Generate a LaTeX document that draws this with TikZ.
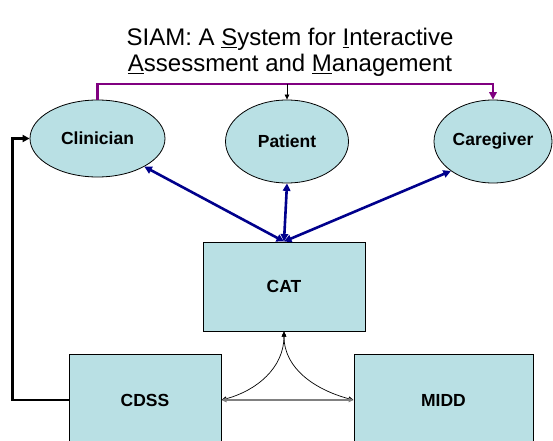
\documentclass[tikz,border=0pt]{standalone}
\usepackage{fontspec}
\setmainfont{Liberation Sans}
\usetikzlibrary{shapes.geometric,arrows.meta}
\definecolor{siamfill}{RGB}{185,224,228}
\definecolor{siamblue}{RGB}{0,0,140}
\definecolor{siampurple}{RGB}{128,0,128}

\begin{document}
\begin{tikzpicture}[x=1pt,y=1pt,
		actor/.style={ellipse, draw, line width=0.8pt, fill=siamfill, inner sep=0pt,
			font=\fontsize{17.5}{20}\selectfont\bfseries},
		module/.style={rectangle, draw, line width=1pt, fill=siamfill, inner sep=0pt,
			font=\fontsize{17.5}{20}\selectfont\bfseries},
		link/.style={siamblue, line width=2.6pt,
			{Triangle[length=7.5pt,width=7.5pt]}-{Triangle[length=7.5pt,width=7.5pt]}},
		flow/.style={line width=0.7pt, {Triangle[length=5pt,width=4.5pt]}-{Triangle[length=5pt,width=4.5pt]}}
	]
		\useasboundingbox (0,0) rectangle (553,440);
		% title
		\node[anchor=base] (title1) at (290,394) {\fontsize{24}{28}\selectfont SIAM: A \underline{S}ystem for \underline{I}nteractive};
		\node[anchor=base] (title2) at (290,368) {\fontsize{24}{28}\selectfont \underline{A}ssessment and \underline{M}anagement};
		% people
		\node[actor, minimum width=135pt, minimum height=77pt] (clin) at (97.5,301.5) {Clinician};
		\node[actor, minimum width=123pt, minimum height=83pt] (pat) at (287,298.5) {Patient};
		\node[actor, minimum width=118pt, minimum height=83pt] (care) at (493,298.5) {Caregiver};
		% modules
		\node[module, minimum width=162pt, minimum height=89pt] (cat) at (284,153.5) {CAT};
		\node[module, minimum width=152pt, minimum height=92pt] (cdss) at (145,40) {CDSS};
		\node[module, minimum width=179pt, minimum height=92pt] (midd) at (443.5,40) {MIDD};
		% top bus
		\coordinate (bus) at (287,356);
		\draw[siampurple, line width=2.6pt, -{Triangle[length=7.5pt,width=7.5pt]}] (clin.north) |- (bus) -| (care.north);
		\draw[line width=0.7pt, -{Triangle[length=5pt,width=4.5pt]}] (bus) -- (pat.north);
		% CAT to people
		\foreach \who/\side in {clin/-31, pat/south, care/215}
			\draw[link] (cat.north) -- (\who.\side);
		% feedback CDSS to clinician
		\draw[line width=2.4pt, -{Triangle[length=7pt,width=7pt]}] (cdss.west) -- ++(-56,0) |- (clin.west);
		% modules among themselves
		\draw[flow] (cat.south) to[out=-90, in=15] (cdss.east);
		\draw[flow] (cat.south) to[out=-90, in=165] (midd.west);
		\draw[flow, gray, line width=1.4pt] (cdss.east) -- (midd.west);
	\end{tikzpicture}
\end{document}
